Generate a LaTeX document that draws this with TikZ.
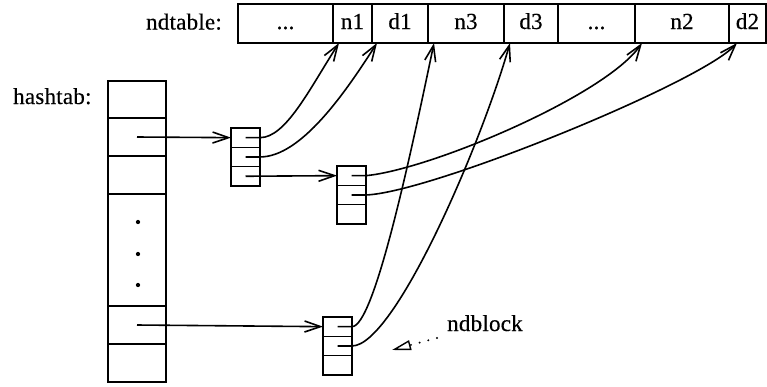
\documentclass[tikz,border=0pt]{standalone}
\usepackage{fontspec}
\setmainfont{Liberation Serif}[LetterSpace=1,FakeBold=0.4]
\usetikzlibrary{arrows.meta}
\begin{document}
\begin{tikzpicture}[x=1pt,y=-1pt,
  every node/.style={font=\fontsize{23}{27}\selectfont},
  cell/.style={draw, line width=1.3pt, inner sep=0pt, outer sep=0pt, minimum height=39pt, anchor=north west, text height=12pt, text depth=1pt},
  hcell/.style={draw, line width=1.6pt, inner sep=0pt, outer sep=0pt, minimum width=58pt, anchor=north west},
  bcell/.style={draw, line width=1.3pt, inner sep=0pt, outer sep=0pt, minimum width=29pt, minimum height=19.3pt, anchor=north west},
  ptr/.style={line width=1.6pt, -{Straight Barb[length=16pt,width=11pt]}},
  dotmark/.style={circle, fill, inner sep=1.5pt},
  lbl/.style={inner sep=0pt},
  dotarrow/.style={line width=2.2pt, dash pattern=on 0pt off 9pt, line cap=round, -{Triangle[open, length=19pt, width=10pt, line width=1.4pt]}}]
\useasboundingbox (0,0) rectangle (767,386);
% ndtable
\node[cell, minimum width=95pt] (c0) at (238,4) {...};
\node[cell, minimum width=39pt] (n1) at (333,4) {n1};
\node[cell, minimum width=56pt] (d1) at (372,4) {d1};
\node[cell, minimum width=76pt] (n3) at (428,4) {n3};
\node[cell, minimum width=54pt] (d3) at (504,4) {d3};
\node[cell, minimum width=77pt] (c5) at (558,4) {...};
\node[cell, minimum width=94pt] (n2) at (635,4) {n2};
\node[cell, minimum width=37pt] (d2) at (729,4) {d2};
\node[lbl, anchor=base east] (ndtablelbl) at (222,29.5) {ndtable:};
% hashtab
\node[lbl, anchor=base west] (hashtablbl) at (13,104) {hashtab:};
\node[hcell, minimum height=37pt] (h1) at (108,81) {};
\node[hcell, minimum height=38pt] (h2) at (108,118) {};
\node[hcell, minimum height=38pt] (h3) at (108,156) {};
\node[hcell, minimum height=112pt] (h4) at (108,194) {};
\node[hcell, minimum height=38pt] (h5) at (108,306) {};
\node[hcell, minimum height=38pt] (h6) at (108,344) {};
\node[dotmark] (dot1) at (138,222) {};
\node[dotmark] (dot2) at (138,254) {};
\node[dotmark] (dot3) at (138,285) {};
% blocks
\node[bcell] (b1a) at (231,128) {};
\node[bcell] (b1b) at (231,147.3) {};
\node[bcell] (b1c) at (231,166.6) {};
\node[bcell] (b2a) at (337,166) {};
\node[bcell] (b2b) at (337,185.3) {};
\node[bcell] (b2c) at (337,204.6) {};
\node[bcell] (b3a) at (323,317) {};
\node[bcell] (b3b) at (323,336.3) {};
\node[bcell] (b3c) at (323,355.6) {};
\node[lbl, anchor=base west] (ndblocklbl) at (447,331) {ndblock};
% pointers
\draw[ptr] (h2.center) -- (b1a.west);
\draw[ptr] (h5.center) -- (b3a.west);
\draw[ptr] (b1c.center) -- (b2a.west);
\draw[ptr] (b1a.center) -- (b1a.east) .. controls +(26,0) and +(-29,45) .. ([xshift=6pt]n1.south west);
\draw[ptr] (b1b.center) -- (b1b.east) .. controls +(41,0) and +(-32,50) .. ([xshift=5pt]d1.south west);
\draw[ptr] (b2a.center) -- (b2a.east) .. controls +(64,-6) and +(-37,53) .. ([xshift=7pt]n2.south west);
\draw[ptr] (b2b.center) -- (b2b.east) .. controls +(64,-2) and +(-37,40) .. ([xshift=8pt]d2.south west);
\draw[ptr] (b3a.center) -- (b3a.east) .. controls +(22,0) and +(-24,115) .. ([xshift=6pt]n3.south west);
\draw[ptr] (b3b.center) -- (b3b.east) .. controls +(42,0) and +(-30,105) .. ([xshift=6pt]d3.south west);
% dotted arrow
\coordinate (dotA) at (437,338);
\coordinate (dotB) at (392,350);
\draw[dotarrow] (dotA) -- (dotB);
\end{tikzpicture}
\end{document}
